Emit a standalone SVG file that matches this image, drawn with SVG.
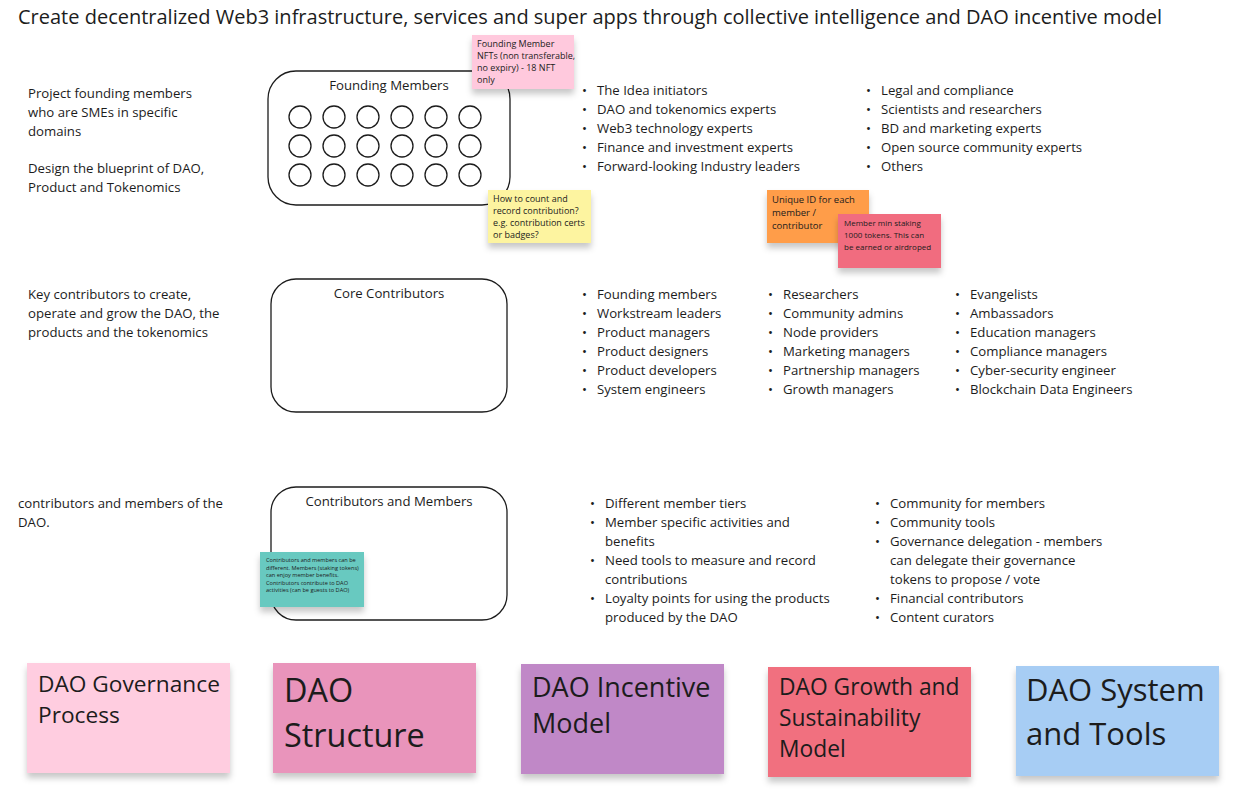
<svg xmlns="http://www.w3.org/2000/svg" width="1252" height="798" viewBox="0 0 1252 798">
<defs>
<filter id="sh" x="-10%" y="-10%" width="120%" height="135%">
<feDropShadow dx="0" dy="5" stdDeviation="3" flood-color="#000" flood-opacity="0.22"/>
</filter>
<style>
text{font-family:"Open Sans","Noto Sans","Liberation Sans",sans-serif;fill:#1c1c1c}
.t{font-size:13.2px}
.box{fill:#fff;stroke:#1c1c1c;stroke-width:1.3}
.c{fill:none;stroke:#1c1c1c;stroke-width:1.3}
.b{font-size:9px}
.ttl{font-size:13.2px;text-anchor:middle}
</style>
</defs>
<rect width="1252" height="798" fill="#fff"/>
<text x="18" y="24" font-size="20" textLength="1144" lengthAdjust="spacingAndGlyphs">Create decentralized Web3 infrastructure, services and super apps through collective intelligence and DAO incentive model</text>

<g id="left-texts" class="t">
<text x="28" y="98" class="t">Project founding members</text>
<text x="28" y="117" class="t">who are SMEs in specific</text>
<text x="28" y="136" class="t">domains</text>
<text x="28" y="173" class="t">Design the blueprint of DAO,</text>
<text x="28" y="192" class="t">Product and Tokenomics</text>
<text x="28" y="299" class="t">Key contributors to create,</text>
<text x="28" y="318" class="t">operate and grow the DAO, the</text>
<text x="28" y="337" class="t">products and the tokenomics</text>
<text x="18" y="508" class="t">contributors and members of the</text>
<text x="18" y="527" class="t">DAO.</text>
</g>

<g id="founding-members">
<rect class="box" x="268" y="71" width="242" height="134" rx="28"/>
<text class="ttl" x="389" y="90">Founding Members</text>
<g class="c">
<circle cx="300" cy="117" r="11"/><circle cx="334" cy="117" r="11"/><circle cx="368" cy="117" r="11"/><circle cx="402" cy="117" r="11"/><circle cx="436" cy="117" r="11"/><circle cx="470" cy="117" r="11"/>
<circle cx="300" cy="146" r="11"/><circle cx="334" cy="146" r="11"/><circle cx="368" cy="146" r="11"/><circle cx="402" cy="146" r="11"/><circle cx="436" cy="146" r="11"/><circle cx="470" cy="146" r="11"/>
<circle cx="300" cy="175" r="11"/><circle cx="334" cy="175" r="11"/><circle cx="368" cy="175" r="11"/><circle cx="402" cy="175" r="11"/><circle cx="436" cy="175" r="11"/><circle cx="470" cy="175" r="11"/>
</g>
</g>

<g id="core-contributors">
<rect class="box" x="271" y="279" width="236" height="133" rx="25"/>
<text class="ttl" x="389" y="298">Core Contributors</text>
</g>

<g id="contributors-members">
<rect class="box" x="271" y="487" width="236" height="133" rx="25"/>
<text class="ttl" x="389" y="506">Contributors and Members</text>
</g>

<g id="note-nft">
<rect x="472" y="35" width="102" height="54" fill="#ffc9dd" filter="url(#sh)"/>
<text class="b" x="477" y="47">Founding Member</text>
<text class="b" x="477" y="59">NFTs (non transferable,</text>
<text class="b" x="477" y="71">no expiry) - 18 NFT</text>
<text class="b" x="477" y="83">only</text>
</g>

<g id="note-count">
<rect x="488" y="190" width="103" height="53" fill="#fdf4a0" filter="url(#sh)"/>
<text class="b" x="493" y="202">How to count and</text>
<text class="b" x="493" y="214">record contribution?</text>
<text class="b" x="493" y="226">e.g. contribution certs</text>
<text class="b" x="493" y="238">or badges?</text>
</g>

<g id="note-uid">
<rect x="767" y="190" width="102" height="53" fill="#ff9d48" filter="url(#sh)"/>
<text x="772" y="203" font-size="9.5">Unique ID for each</text>
<text x="772" y="216" font-size="9.5">member /</text>
<text x="772" y="229" font-size="9.5">contributor</text>
</g>

<g id="note-staking">
<rect x="838" y="214" width="103" height="54" fill="#f16c7f" filter="url(#sh)"/>
<text x="844" y="226" font-size="8">Member min staking</text>
<text x="844" y="238" font-size="8">1000 tokens. This can</text>
<text x="844" y="250" font-size="8">be earned or airdroped</text>
</g>

<g id="note-members">
<rect x="260" y="552" width="104" height="55" fill="#67c9c0" filter="url(#sh)"/>
<text x="266" y="562" font-size="5.6">Contributors and members can be</text>
<text x="266" y="569.5" font-size="5.6">different. Members (staking tokens)</text>
<text x="266" y="577" font-size="5.6">can enjoy member benefits.</text>
<text x="266" y="584.5" font-size="5.6">Contributors contribute to DAO</text>
<text x="266" y="592" font-size="5.6">activities (can be guests to DAO)</text>
</g>

<g id="list-founding" class="t">
<text x="582" y="95">•</text><text x="597" y="95">The Idea initiators</text>
<text x="582" y="114">•</text><text x="597" y="114">DAO and tokenomics experts</text>
<text x="582" y="133">•</text><text x="597" y="133">Web3 technology experts</text>
<text x="582" y="152">•</text><text x="597" y="152">Finance and investment experts</text>
<text x="582" y="171">•</text><text x="597" y="171">Forward-looking Industry leaders</text>
<text x="866" y="95">•</text><text x="881" y="95">Legal and compliance</text>
<text x="866" y="114">•</text><text x="881" y="114">Scientists and researchers</text>
<text x="866" y="133">•</text><text x="881" y="133">BD and marketing experts</text>
<text x="866" y="152">•</text><text x="881" y="152">Open source community experts</text>
<text x="866" y="171">•</text><text x="881" y="171">Others</text>
</g>

<g id="list-core" class="t">
<text x="582" y="299">•</text><text x="597" y="299">Founding members</text>
<text x="582" y="318">•</text><text x="597" y="318">Workstream leaders</text>
<text x="582" y="337">•</text><text x="597" y="337">Product managers</text>
<text x="582" y="356">•</text><text x="597" y="356">Product designers</text>
<text x="582" y="375">•</text><text x="597" y="375">Product developers</text>
<text x="582" y="394">•</text><text x="597" y="394">System engineers</text>
<text x="768" y="299">•</text><text x="783" y="299">Researchers</text>
<text x="768" y="318">•</text><text x="783" y="318">Community admins</text>
<text x="768" y="337">•</text><text x="783" y="337">Node providers</text>
<text x="768" y="356">•</text><text x="783" y="356">Marketing managers</text>
<text x="768" y="375">•</text><text x="783" y="375">Partnership managers</text>
<text x="768" y="394">•</text><text x="783" y="394">Growth managers</text>
<text x="955" y="299">•</text><text x="970" y="299">Evangelists</text>
<text x="955" y="318">•</text><text x="970" y="318">Ambassadors</text>
<text x="955" y="337">•</text><text x="970" y="337">Education managers</text>
<text x="955" y="356">•</text><text x="970" y="356">Compliance managers</text>
<text x="955" y="375">•</text><text x="970" y="375">Cyber-security engineer</text>
<text x="955" y="394">•</text><text x="970" y="394">Blockchain Data Engineers</text>
</g>

<g id="list-members" class="t">
<text x="590" y="508">•</text><text x="605" y="508">Different member tiers</text>
<text x="590" y="527">•</text><text x="605" y="527">Member specific activities and</text>
<text x="605" y="546">benefits</text>
<text x="590" y="565">•</text><text x="605" y="565">Need tools to measure and record</text>
<text x="605" y="584">contributions</text>
<text x="590" y="603">•</text><text x="605" y="603">Loyalty points for using the products</text>
<text x="605" y="622">produced by the DAO</text>
<text x="875" y="508">•</text><text x="890" y="508">Community for members</text>
<text x="875" y="527">•</text><text x="890" y="527">Community tools</text>
<text x="875" y="546">•</text><text x="890" y="546">Governance delegation - members</text>
<text x="890" y="565">can delegate their governance</text>
<text x="890" y="584">tokens to propose / vote</text>
<text x="875" y="603">•</text><text x="890" y="603">Financial contributors</text>
<text x="875" y="622">•</text><text x="890" y="622">Content curators</text>
</g>

<g id="note-governance">
<rect x="27" y="663" width="203" height="110" fill="#ffcde0" filter="url(#sh)"/>
<text x="38" y="692" font-size="22.7">DAO Governance</text>
<text x="38" y="723" font-size="22.7">Process</text>
</g>
<g id="note-structure">
<rect x="273" y="663" width="203" height="110" fill="#e994bb" filter="url(#sh)"/>
<text x="284" y="702" font-size="32.4">DAO</text>
<text x="284" y="747" font-size="32.4">Structure</text>
</g>
<g id="note-incentive">
<rect x="521" y="664" width="203" height="110" fill="#c088c7" filter="url(#sh)"/>
<text x="532" y="697" font-size="27">DAO Incentive</text>
<text x="532" y="733" font-size="27">Model</text>
</g>
<g id="note-growth">
<rect x="768" y="667" width="203" height="110" fill="#f1707f" filter="url(#sh)"/>
<text x="779" y="695" font-size="22.8">DAO Growth and</text>
<text x="779" y="726" font-size="22.8">Sustainability</text>
<text x="779" y="757" font-size="22.8">Model</text>
</g>
<g id="note-system">
<rect x="1016" y="666" width="203" height="110" fill="#a7cdf4" filter="url(#sh)"/>
<text x="1026" y="701" font-size="31">DAO System</text>
<text x="1026" y="745" font-size="31">and Tools</text>
</g>
<g id="connectors"/>
</svg>
